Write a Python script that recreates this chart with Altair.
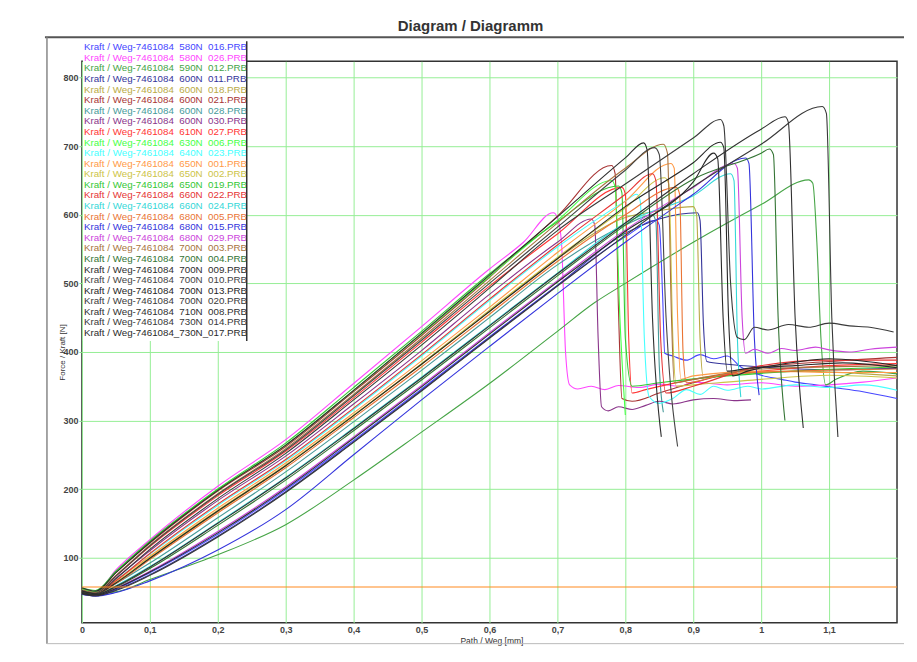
import altair as alt
import pandas as pd

# ---------------- data ----------------
names = [
    "580N 016", "580N 026", "590N 012", "600N 011", "600N 018", "600N 021",
    "600N 028", "600N 030", "610N 027", "630N 006", "640N 023", "650N 001",
    "650N 002", "650N 019", "660N 022", "660N 024", "680N 005", "680N 015",
    "680N 029", "700N 003", "700N 004", "700N 009", "700N 010", "700N 013",
    "700N 020", "710N 008", "730N 014", "730N 017",
]
colors = [
    "#4646ff", "#ff46ff", "#46a446", "#34349a", "#b9aa46", "#a83434",
    "#469a9a", "#8a348a", "#ff3434", "#46ff46", "#46ffff", "#ff9a46",
    "#cdc446", "#34c834", "#e63434", "#34d8d8", "#ea7434", "#3434dc",
    "#cc44dc", "#a87440", "#347434", "#2e2e2e", "#444444", "#262626",
    "#3a3a3a", "#303030", "#383838", "#2a2a2a",
]
xs = [
    [0, .02, .05, .1, .2, .3, .4, .5, .6, .7, .8, .845, .850, .855, .858, .87, .89, .91, .93, .95, .97, 1.0, 1.03, 1.05, 1.08, 1.1, 1.15, 1.2],
    [0, .02, .05, .1, .2, .3, .4, .5, .6, .65, .694, .70, .706, .712, .718, .73, .75, .77, .79, .82, .85, .88, .9, .95, 1.0, 1.05, 1.1, 1.15, 1.2],
    [0, .02, .05, .1, .2, .3, .4, .5, .6, .7, .755, .8, .9, 1.0, 1.07, 1.076, 1.082, 1.088, 1.095, 1.11, 1.15, 1.2],
    [0, .02, .05, .1, .2, .3, .4, .5, .6, .7, .8, .85, .906, .91, .915, .92, .95, 1.0, 1.1, 1.2],
    [0, .02, .05, .1, .2, .3, .4, .5, .6, .7, .8, .85, .9, .905, .91, .915, .95, 1.05, 1.2],
    [0, .02, .05, .1, .2, .3, .4, .5, .6, .7, .78, .785, .79, .795, .81, .85, .9, 1.0, 1.1, 1.2],
    [0, .02, .05, .1, .2, .3, .4, .5, .6, .7, .8, .84, .845, .85, .856],
    [0, .02, .05, .1, .2, .3, .4, .5, .6, .7, .75, .755, .76, .765, .775, .79, .81, .83, .85, .87, .9, .93, .96, .985],
    [0, .02, .05, .1, .2, .3, .4, .5, .6, .7, .795, .80, .805, .81, .83, .9, 1.0, 1.1, 1.2],
    [0, .02, .05, .1, .2, .3, .4, .5, .6, .7, .78, .785, .792, .80],
    [0, .02, .05, .1, .2, .3, .4, .5, .6, .7, .8, .817, .822, .828, .835, .85, .87, .89, .91, .93, .95, .98, 1.0, 1.05, 1.1, 1.15, 1.2],
    [0, .02, .05, .1, .2, .3, .4, .5, .6, .7, .8, .867, .872, .877, .882, .9, 1.0, 1.1, 1.2],
    [0, .02, .05, .1, .2, .3, .4, .5, .6, .7, .8, .858, .864, .87, .875, .9, 1.0, 1.1, 1.2],
    [0, .02, .05, .1, .2, .3, .4, .5, .6, .7, .79, .795, .80, .81, .85, .95, 1.05, 1.2],
    [0, .02, .05, .1, .2, .3, .4, .5, .6, .7, .8, .84, .845, .852, .86, .9, 1.0, 1.1, 1.2],
    [0, .02, .05, .1, .2, .3, .4, .5, .6, .7, .8, .9, .955, .96, .965, .97],
    [0, .02, .05, .1, .2, .3, .4, .5, .6, .7, .8, .875, .88, .885, .89, .95, 1.05, 1.2],
    [0, .02, .05, .1, .2, .3, .4, .5, .6, .7, .8, .9, .977, .982, .99, .997],
    [0, .02, .05, .1, .2, .3, .4, .5, .6, .7, .8, .9, .96, .965, .972, .977, .99, 1.01, 1.03, 1.05, 1.08, 1.1, 1.13, 1.16, 1.2],
    [0, .02, .05, .1, .2, .3, .4, .5, .6, .7, .8, .856, .862, .868, .872, .9, 1.0, 1.2],
    [0, .02, .05, .1, .2, .3, .4, .5, .6, .7, .8, .9, 1.0, 1.012, 1.018, 1.025, 1.035],
    [0, .02, .05, .1, .2, .3, .4, .5, .6, .7, .8, .827, .832, .84, .853],
    [0, .02, .05, .1, .2, .3, .4, .5, .6, .7, .8, .843, .85, .86, .877],
    [0, .02, .05, .1, .2, .3, .4, .5, .6, .7, .8, .9, .94, .945, .952, .958, .98, 1.05, 1.1, 1.2],
    [0, .02, .05, .1, .2, .3, .4, .5, .6, .7, .8, .9, .94, .945, .955, .965, .975, .99, 1.01, 1.04, 1.07, 1.1, 1.13, 1.16, 1.195],
    [0, .02, .05, .1, .2, .3, .4, .5, .6, .7, .8, .9, 1.0, 1.035, 1.04, 1.05, 1.062],
    [0, .02, .05, .1, .2, .3, .4, .5, .6, .7, .8, .9, 1.0, 1.09, 1.096, 1.104, 1.113],
    [0, .02, .05, .1, .2, .3, .4, .5, .6, .7, .8, .9, .93, .936, .944, .95, .98, 1.05, 1.12, 1.2],
]
ys = [
    [47, 44, 54, 78, 134, 199, 271, 346, 422, 497, 568, 592, 585, 480, 398, 394, 388, 396, 390, 394, 378, 366, 360, 356, 352, 349, 342, 332],
    [53, 49, 82, 126, 204, 272, 354, 437, 521, 560, 603, 596, 560, 400, 352, 346, 350, 345, 351, 348, 353, 350, 356, 352, 355, 350, 352, 356, 362],
    [50, 48, 50, 68, 104, 148, 213, 283, 354, 430, 472, 500, 560, 615, 651, 646, 560, 420, 352, 360, 372, 368],
    [48, 45, 53, 75, 131, 196, 269, 344, 421, 497, 573, 594, 603, 592, 440, 386, 382, 378, 374, 376],
    [52, 48, 64, 99, 167, 234, 307, 382, 459, 536, 596, 606, 612, 600, 420, 363, 366, 372, 365],
    [55, 50, 78, 121, 197, 262, 342, 424, 509, 598, 672, 660, 460, 332, 328, 340, 355, 378, 386, 392],
    [50, 46, 62, 92, 158, 225, 298, 373, 450, 527, 585, 600, 590, 380, 312],
    [49, 46, 70, 110, 183, 248, 324, 402, 484, 560, 594, 585, 420, 320, 314, 320, 316, 322, 328, 324, 330, 332, 329, 330],
    [51, 47, 73, 116, 190, 255, 333, 414, 496, 572, 640, 630, 420, 340, 345, 360, 372, 380, 383],
    [54, 50, 79, 123, 199, 264, 344, 426, 510, 592, 650, 640, 450, 308],
    [48, 45, 67, 105, 176, 241, 316, 394, 475, 553, 620, 630, 620, 420, 335, 325, 332, 345, 338, 350, 344, 350, 346, 352, 348, 352, 344],
    [52, 48, 67, 102, 172, 238, 311, 387, 465, 545, 620, 675, 668, 450, 360, 365, 372, 370, 370],
    [51, 47, 64, 100, 169, 235, 308, 383, 461, 538, 610, 654, 645, 420, 350, 352, 360, 366, 362],
    [56, 52, 80, 124, 200, 267, 348, 430, 514, 590, 642, 632, 420, 350, 355, 365, 372, 378],
    [49, 46, 66, 106, 178, 243, 318, 396, 477, 556, 630, 660, 650, 420, 340, 350, 380, 388, 388],
    [50, 46, 59, 87, 151, 217, 289, 363, 439, 515, 588, 628, 660, 650, 420, 334],
    [50, 47, 62, 97, 165, 231, 304, 378, 455, 532, 600, 640, 630, 400, 355, 368, 372, 375],
    [46, 44, 49, 66, 111, 170, 250, 330, 408, 485, 560, 630, 683, 675, 420, 337],
    [48, 45, 56, 80, 138, 203, 276, 351, 428, 504, 578, 640, 675, 668, 450, 398, 404, 398, 405, 402, 407, 403, 400, 404, 407],
    [53, 49, 74, 118, 193, 259, 338, 420, 504, 588, 668, 703, 690, 450, 355, 360, 375, 380],
    [49, 46, 57, 84, 147, 213, 285, 359, 435, 511, 585, 652, 690, 696, 688, 450, 300],
    [56, 51, 78, 122, 198, 264, 344, 427, 512, 597, 683, 705, 695, 450, 276],
    [52, 48, 73, 117, 192, 257, 336, 417, 500, 582, 665, 698, 688, 450, 262],
    [51, 47, 63, 99, 168, 234, 307, 382, 459, 536, 612, 676, 706, 698, 450, 365, 372, 385, 390, 380],
    [50, 46, 69, 112, 186, 252, 330, 410, 493, 577, 645, 712, 739, 730, 500, 421, 418, 436, 432, 440, 436, 442, 438, 436, 429],
    [49, 46, 58, 86, 150, 216, 288, 362, 438, 514, 588, 660, 725, 743, 735, 450, 289],
    [47, 44, 52, 74, 130, 195, 268, 343, 420, 496, 570, 641, 703, 758, 748, 450, 276],
    [48, 45, 55, 79, 136, 201, 274, 349, 426, 502, 576, 648, 690, 682, 450, 372, 376, 380, 384, 377],
]
ref_name = "ref"
ref_color = "#ff8a1e"
ref_x = [0, 1.2]
ref_y = [57, 57]

x_ticks = [0, 0.1, 0.2, 0.3, 0.4, 0.5, 0.6, 0.7, 0.8, 0.9, 1.0, 1.1]
y_ticks = [100, 200, 300, 400, 500, 600, 700, 800]
prefix = "Kraft / Weg-7461084"

# ---------------- tables ----------------
rows = []
for n, xv, yv in zip(names, xs, ys):
    for j, (a, b) in enumerate(zip(xv, yv)):
        rows.append({"name": n, "o": j, "x": a, "y": b})
for j, (a, b) in enumerate(zip(ref_x, ref_y)):
    rows.append({"name": ref_name, "o": j, "x": a, "y": b})
df = pd.DataFrame(rows)

nb = "\u00a0\u00a0"
labels = []
for i, n in enumerate(names):
    f, s = n.split(" ")
    if i == len(names) - 1:
        lab = prefix + "_" + f + "_" + s + ".PRB"
    else:
        lab = prefix + nb + f + nb + s + ".PRB"
    labels.append({"name": n, "idx": i, "label": lab})
leg = pd.DataFrame(labels)

color = alt.Color("name:N", scale=alt.Scale(domain=names + [ref_name], range=colors + [ref_color]), legend=None)

one = pd.DataFrame({"t": ["Diagram / Diagramm"]})

lines = alt.Chart(df).mark_line(strokeWidth=1.1, interpolate="monotone").encode(
    x=alt.X("x:Q", scale=alt.Scale(domain=[0, 1.2], nice=False, zero=False),
            axis=alt.Axis(values=x_ticks, grid=True, ticks=False, domain=False,
                          labelExpr="replace(format(datum.value, '~g'), '.', ',')",
                          labelFontSize=9, labelFont="Liberation Sans", labelFontWeight="bold",
                          labelColor="#444", labelPadding=3, labelFlush=False,
                          title="Path / Weg [mm]", titleFontSize=8.5, titleFontWeight="normal",
                          titleFont="Liberation Sans", titleColor="#333",
                          titleX=410, titleY=18, titleBaseline="middle", titleAnchor="middle")),
    y=alt.Y("y:Q", scale=alt.Scale(domain=[5, 824], nice=False, zero=False),
            axis=alt.Axis(values=y_ticks, grid=True, ticks=True, tickSize=3, tickColor="#8d8",
                          domain=False, labelFontSize=9, labelFont="Liberation Sans",
                          labelFontWeight="bold", labelColor="#444", labelPadding=1,
                          title="Force / Kraft [N]", titleFontSize=8, titleFontWeight="normal",
                          titleFont="Liberation Sans", titleColor="#333",
                          titleX=-19, titleY=291, titleBaseline="middle", titleAlign="center")),
    color=color,
    detail="name:N",
    order="o:Q",
)

leg_box = alt.Chart(one).mark_rect(fill="white").encode(
    x=alt.value(1), x2=alt.value(165), y=alt.value(-20), y2=alt.value(280))
leg_text = alt.Chart(leg).mark_text(align="left", baseline="middle", fontSize=9.8,
                                    font="Liberation Sans").encode(
    x=alt.value(2),
    y=alt.Y("idx:Q", scale=alt.Scale(domain=[0, 27], range=[-14, 272]), axis=None),
    text="label:N",
    color=color,
)
leg_edge = alt.Chart(one).mark_rule(color="#333", strokeWidth=1.5).encode(
    x=alt.value(165), y=alt.value(-20), y2=alt.value(280))

title = alt.Chart(one).mark_text(fontSize=15, fontWeight="bold", font="Liberation Sans",
                                 color="#333", align="center", baseline="alphabetic").encode(
    x=alt.value(389), y=alt.value(-30), text="t:N")

frame_top = alt.Chart(one).mark_rule(color="#555", strokeWidth=2).encode(
    x=alt.value(-37), x2=alt.value(823), y=alt.value(-24))
frame_left = alt.Chart(one).mark_rule(color="#888", strokeWidth=1.5).encode(
    x=alt.value(-35), y=alt.value(-24), y2=alt.value(583))
frame_bottom = alt.Chart(one).mark_rule(color="#bbb", strokeWidth=1).encode(
    x=alt.value(-35), x2=alt.value(823), y=alt.value(583))

chart = alt.layer(
    frame_top, frame_left, frame_bottom, title, lines, leg_box, leg_text, leg_edge
).resolve_scale(y="independent").properties(
    width=816, height=562,
    autosize=alt.AutoSizeParams(type="none"),
    padding={"left": 74, "top": 53, "right": 12, "bottom": 30},
).configure_view(stroke="#333", strokeWidth=1.5).configure_axis(
    gridColor="#96ee96", gridWidth=1, gridOpacity=1
)

chart.save("out.html", embed_options={"renderer": "svg", "actions": False})
